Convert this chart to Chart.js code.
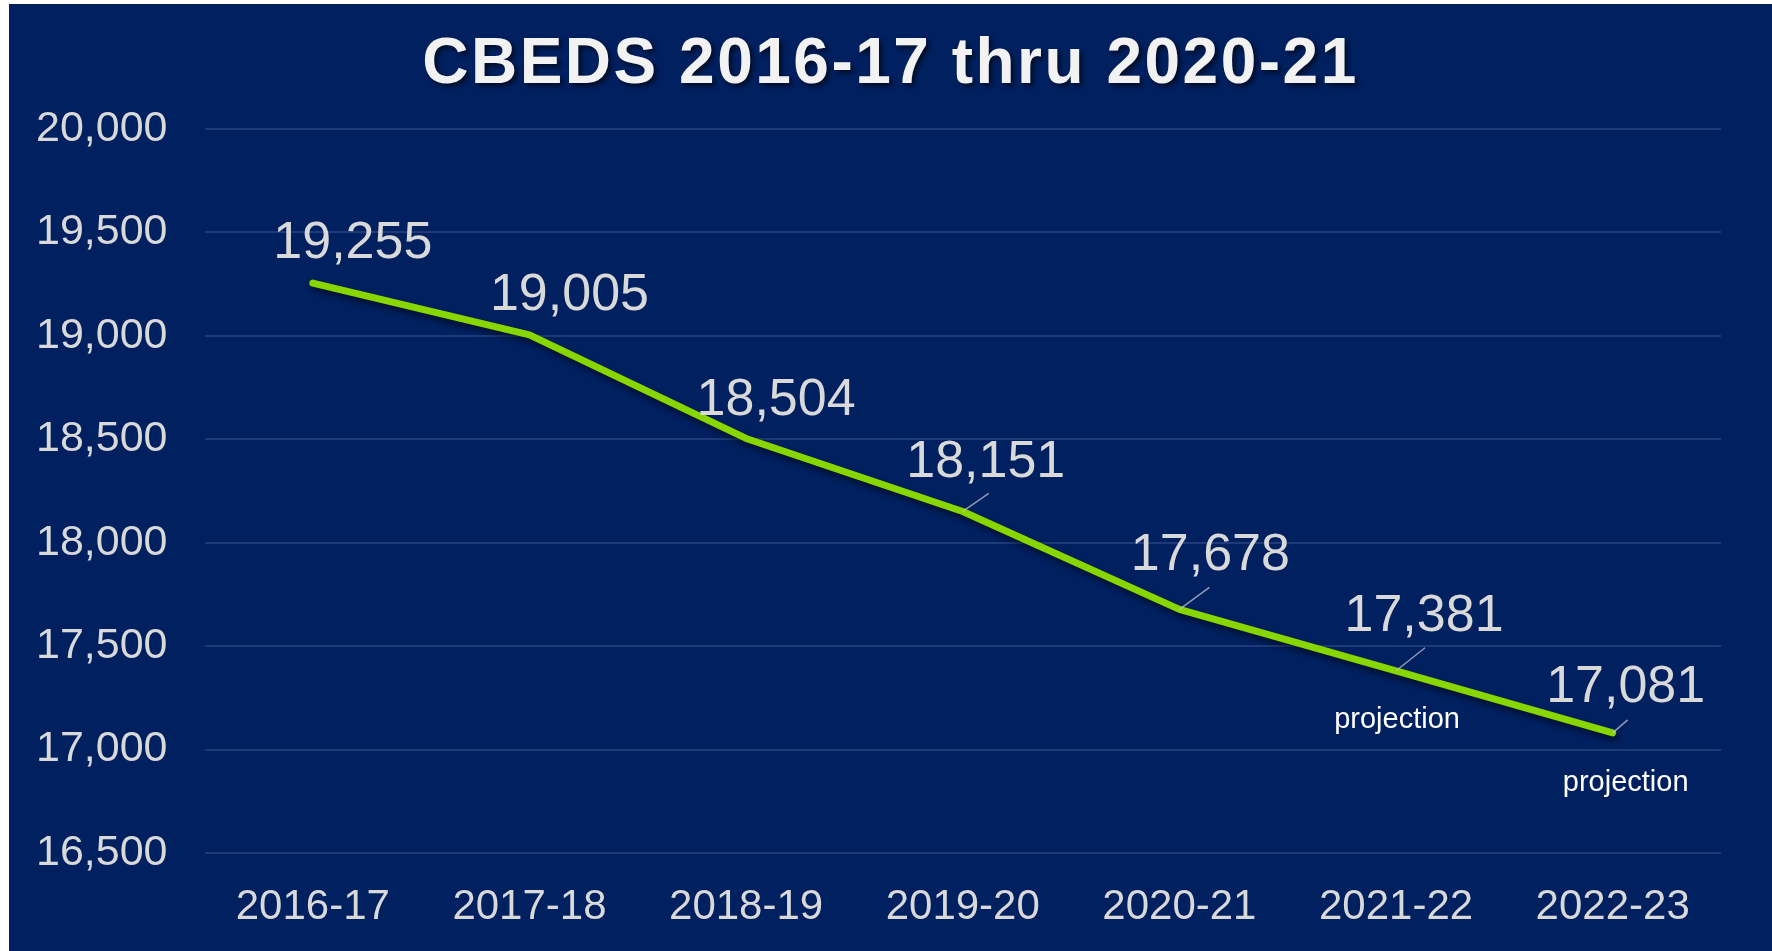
<!DOCTYPE html>
<html>
<head>
<meta charset="utf-8">
<script src="https://cdn.jsdelivr.net/npm/chart.js@4.4.1/dist/chart.umd.min.js"></script>
<style>
  html, body { margin: 0; padding: 0; background: #ffffff; }
  #wrap { position: absolute; left: 9px; top: 4px; width: 1763px; height: 947px; background: #002060; }
</style>
</head>
<body>
<div id="wrap"><canvas id="chartCbeds"></canvas></div>
<script>
// ── 数据 ──
const years = ['2016-17', '2017-18', '2018-19', '2019-20', '2020-21', '2021-22', '2022-23'];
const enrollment = [19255, 19005, 18504, 18151, 17678, 17381, 17081];
const noteText = ['', '', '', '', '', 'projection', 'projection'];
const titleText = 'CBEDS 2016-17 thru 2020-21';

// label placement relative to each point (dx, dy of label centre; leader end)
const labelOffsets = [[40, -39], [40, -39], [30, -38], [23, -49], [31, -54], [28, -54], [13, -45]];
const leaderEnds = [null, null, null, [26, -18], [30, -22], [29, -23], [15, -13]];
const noteOffsets = [null, null, null, null, null, [1, 49], [13, 50]];

const TEXT = '#D9D9D9';
const FONT = '"Liberation Sans", Arial, sans-serif';

const shadowPlugin = {
  id: 'lineShadow',
  beforeDatasetDraw(chart) {
    const c = chart.ctx;
    c.save();
    c.shadowColor = 'rgba(0,0,0,0.55)';
    c.shadowBlur = 6;
    c.shadowOffsetX = 2;
    c.shadowOffsetY = 4;
  },
  afterDatasetDraw(chart) {
    chart.ctx.restore();
  },
};

const labelPlugin = {
  id: 'pointLabels',
  afterDraw(chart) {
    const c = chart.ctx;
    const pts = chart.getDatasetMeta(0).data;
    c.save();
    c.textAlign = 'center';
    c.textBaseline = 'middle';
    pts.forEach((p, i) => {
      const [dx, dy] = labelOffsets[i];
      if (leaderEnds[i]) {
        c.strokeStyle = 'rgba(190,195,210,0.75)';
        c.lineWidth = 1.5;
        c.beginPath();
        c.moveTo(p.x, p.y);
        c.lineTo(p.x + leaderEnds[i][0], p.y + leaderEnds[i][1]);
        c.stroke();
      }
      c.fillStyle = TEXT;
      c.font = '52px ' + FONT;
      c.fillText(enrollment[i].toLocaleString('en-US'), p.x + dx, p.y + dy);
      if (noteText[i]) {
        c.fillStyle = '#FFFFFF';
        c.font = '29px ' + FONT;
        c.fillText(noteText[i], p.x + noteOffsets[i][0], p.y + noteOffsets[i][1]);
      }
    });
    // title with shadow
    c.font = 'bold 64px ' + FONT;
    c.letterSpacing = '2.5px';
    c.fillStyle = '#F2F2F2';
    c.shadowColor = 'rgba(0,0,0,0.6)';
    c.shadowBlur = 5;
    c.shadowOffsetX = 3;
    c.shadowOffsetY = 3;
    c.fillText(titleText, chart.width / 2, 61);
    c.restore();
  },
};

new Chart(document.getElementById('chartCbeds'), {
  type: 'line',
  data: {
    labels: years,
    datasets: [{
      data: enrollment,
      borderColor: '#88D600',
      borderWidth: 7,
      pointRadius: 0,
      tension: 0,
      fill: false,
      borderCapStyle: 'round',
      borderJoinStyle: 'round',
    }],
  },
  options: {
    responsive: true,
    maintainAspectRatio: false,
    animation: false,
    layout: { padding: { top: 125, right: 51, left: 0, bottom: 0 } },
    plugins: { legend: { display: false }, tooltip: { enabled: false } },
    scales: {
      x: {
        offset: true,
        grid: { display: false },
        border: { display: false },
        ticks: { color: TEXT, font: { size: 42, family: FONT }, padding: 21, maxRotation: 0 },
        afterFit(s) { s.height = 98; },
      },
      y: {
        min: 16500,
        max: 20000,
        grid: { color: '#1E3B78', lineWidth: 2, drawTicks: false },
        border: { display: false },
        ticks: {
          stepSize: 500,
          color: TEXT,
          font: { size: 43, family: FONT },
          padding: 37,
          callback: v => v.toLocaleString('en-US'),
        },
        afterFit(s) { s.width = 195.5; },
      },
    },
  },
  plugins: [shadowPlugin, labelPlugin],
});
</script>
</body>
</html>
